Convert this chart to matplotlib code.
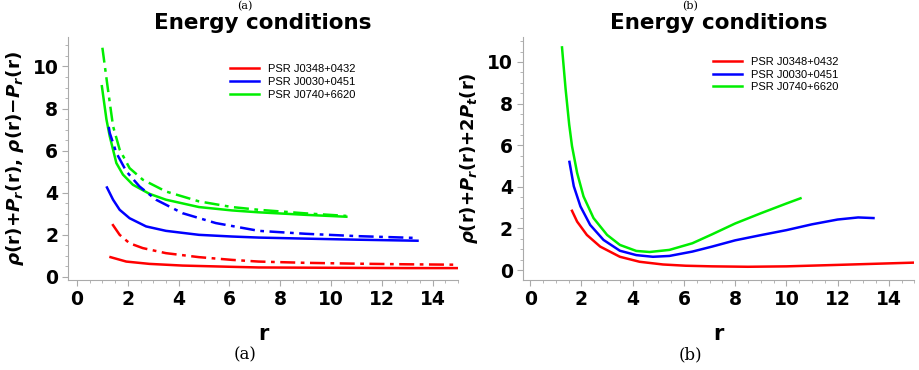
import matplotlib
matplotlib.use("Agg")
import matplotlib.pyplot as plt
from matplotlib.ticker import MultipleLocator

plt.rcParams['mathtext.fontset'] = 'custom'
plt.rcParams['mathtext.it'] = 'DejaVu Sans:italic:bold'
plt.rcParams['mathtext.rm'] = 'DejaVu Sans:bold'

names = ["PSR J0348+0432", "PSR J0030+0451", "PSR J0740+6620"]
colors = ["#ff0000", "#0000ff", "#00ee00"]

# panel (a): rho+P_r (solid), rho-P_r (dash-dot)
r_red_a = [1.32, 1.94, 2.85, 4.15, 6.1, 7.15, 9, 11, 13, 15]
wec_red = [0.94, 0.73, 0.62, 0.54, 0.48, 0.45, 0.44, 0.43, 0.42, 0.42]
r_red_d = [1.39, 1.68, 2.07, 2.59, 3.5, 4.8, 6.1, 7.15, 9, 11, 13, 15]
sec_red = [2.51, 2.0, 1.6, 1.37, 1.13, 0.94, 0.81, 0.73, 0.67, 0.63, 0.6, 0.58]

r_blue_a = [1.18, 1.42, 1.68, 2.07, 2.72, 3.5, 4.8, 6.1, 7.15, 9, 11, 13.4]
wec_blue = [4.25, 3.67, 3.19, 2.79, 2.4, 2.19, 2.0, 1.92, 1.87, 1.82, 1.77, 1.72]
r_blue_d = [1.25, 1.29, 1.55, 1.94, 2.46, 3.11, 4.15, 5.46, 7.15, 9, 11, 13.4]
sec_blue = [7.13, 6.84, 5.89, 5.02, 4.3, 3.67, 3.03, 2.56, 2.19, 2.05, 1.94, 1.85]

r_green_a = [0.98, 1.16, 1.29, 1.55, 1.81, 2.2, 2.85, 3.5, 4.8, 6.1, 7.15, 9, 10.6]
wec_green = [9.06, 7.48, 6.68, 5.41, 4.86, 4.38, 3.95, 3.67, 3.32, 3.16, 3.07, 2.95, 2.86]
r_green_d = [1.0, 1.22, 1.42, 1.68, 2.07, 2.59, 3.5, 4.8, 6.1, 7.15, 9, 10.6]
sec_green = [10.89, 8.9, 7.16, 6.05, 5.17, 4.62, 4.06, 3.59, 3.32, 3.19, 3.02, 2.9]

# panel (b): rho+P_r+2P_t
r_red_b = [1.63, 1.83, 2.21, 2.73, 3.5, 4.27, 5.18, 6.07, 7.1, 8.5, 10, 12, 15]
dec_red = [2.85, 2.33, 1.69, 1.13, 0.64, 0.4, 0.27, 0.21, 0.18, 0.16, 0.18, 0.25, 0.36]
r_blue_b = [1.53, 1.7, 1.96, 2.34, 2.86, 3.5, 4.14, 4.79, 5.43, 6.33, 7.1, 8, 9, 10, 11, 12, 12.8, 13.4]
dec_blue = [5.2, 4.03, 3.06, 2.17, 1.45, 0.93, 0.72, 0.64, 0.68, 0.89, 1.13, 1.43, 1.68, 1.92, 2.2, 2.43, 2.53, 2.5]
r_green_b = [1.24, 1.38, 1.52, 1.63, 1.83, 2.08, 2.47, 3.0, 3.5, 4.14, 4.66, 5.43, 6.33, 7.1, 8, 9, 10, 10.55]
dec_green = [10.7, 8.7, 7.0, 5.96, 4.67, 3.54, 2.5, 1.69, 1.21, 0.92, 0.87, 0.97, 1.29, 1.72, 2.24, 2.73, 3.2, 3.45]

fig = plt.figure(figsize=(9.2, 3.7), dpi=100)
ax1 = fig.add_axes([0.074, 0.243, 0.424, 0.657])
ax2 = fig.add_axes([0.568, 0.243, 0.426, 0.657])

dashdot = (0, (6, 2.2, 1.5, 2.2))
ax1.plot(r_red_a, wec_red, color=colors[0], lw=1.8, label=names[0])
ax1.plot(r_blue_a, wec_blue, color=colors[1], lw=1.8, label=names[1])
ax1.plot(r_green_a, wec_green, color=colors[2], lw=1.8, label=names[2])
ax1.plot(r_red_d, sec_red, color=colors[0], lw=1.8, ls=dashdot)
ax1.plot(r_blue_d, sec_blue, color=colors[1], lw=1.8, ls=dashdot)
ax1.plot(r_green_d, sec_green, color=colors[2], lw=1.8, ls=dashdot)

ax2.plot(r_red_b, dec_red, color=colors[0], lw=1.8, label=names[0])
ax2.plot(r_blue_b, dec_blue, color=colors[1], lw=1.8, label=names[1])
ax2.plot(r_green_b, dec_green, color=colors[2], lw=1.8, label=names[2])

ax1.set_xlim(-0.35, 15)
ax1.set_ylim(-0.15, 11.4)
ax2.set_xlim(-0.3, 15)
ax2.set_ylim(-0.48, 11.2)

for ax in (ax1, ax2):
    for s in ("top", "right"):
        ax.spines[s].set_visible(False)
    for s in ("left", "bottom"):
        ax.spines[s].set_color("#aaaaaa")
    ax.xaxis.set_major_locator(MultipleLocator(2))
    ax.xaxis.set_minor_locator(MultipleLocator(0.5))
    ax.yaxis.set_major_locator(MultipleLocator(2))
    ax.yaxis.set_minor_locator(MultipleLocator(0.5))
    ax.tick_params(which="major", length=4, color="#aaaaaa", labelsize=13.5, pad=3)
    ax.tick_params(which="minor", length=2, color="#aaaaaa")
    for t in ax.get_xticklabels() + ax.get_yticklabels():
        t.set_fontweight("bold")
    ax.set_xlabel("r", fontsize=15, fontweight="bold", labelpad=11)
    ax.set_title("Energy conditions", fontsize=15.5, fontweight="bold", pad=6)

ax1.set_ylabel(r"$\rho$(r)+$P_r$(r), $\rho$(r)$-$$P_r$(r)", fontsize=13.2, fontweight="bold", labelpad=5)
ax2.set_ylabel(r"$\rho$(r)+$P_r$(r)+2$P_t$(r)", fontsize=13, fontweight="bold", labelpad=5)

leg_kw = dict(frameon=False, handlelength=2.6, handletextpad=0.8,
              labelspacing=0.25, prop={"family": "Liberation Sans", "size": 8})
ax1.legend(loc="upper left", bbox_to_anchor=(0.39, 0.93), **leg_kw)
ax2.legend(loc="upper left", bbox_to_anchor=(0.46, 0.96), **leg_kw)

fig.text(0.266, 0.04, "(a)", ha="center", va="center", fontsize=12, family="DejaVu Serif")
fig.text(0.75, 0.04, "(b)", ha="center", va="center", fontsize=12, family="DejaVu Serif")
fig.text(0.266, 0.998, "(a)", ha="center", va="top", fontsize=8, family="DejaVu Serif")
fig.text(0.75, 0.998, "(b)", ha="center", va="top", fontsize=8, family="DejaVu Serif")

fig.savefig("out.png", dpi=100)
